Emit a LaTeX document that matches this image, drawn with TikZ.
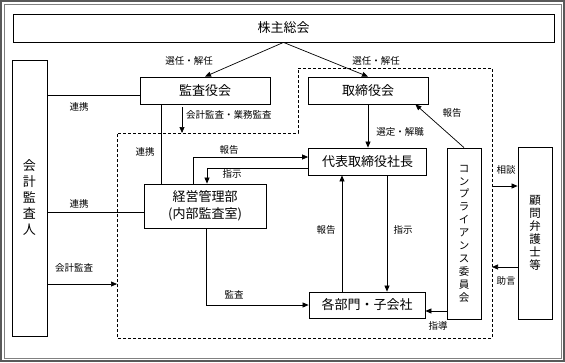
\documentclass[tikz,border=0pt]{standalone}
\usepackage{fontspec}
\setmainfont{Noto Sans CJK JP}
\usetikzlibrary{
    arrows.meta,
    calc
}

\tikzset{
    box/.style={draw, line width=0.8pt, inner sep=0pt, align=center, font=\fontsize{13}{17}\selectfont},
    vbox/.style={box, font=\fontsize{10.5}{12.9}\selectfont},
    lbl/.style={inner sep=1pt, font=\fontsize{9.5}{11}\selectfont},
    arr/.style={-{Triangle[length=6pt,width=5pt]}, line width=0.7pt},
    conn/.style={line width=0.7pt}
}

\begin{document}
\begin{tikzpicture}[x=1pt,y=-1pt]
\useasboundingbox (0,0) rectangle (565,362);

% Frame
\draw[gray!70!black, line width=1.4pt] (1,1) rectangle (564,361);
\draw[gray, line width=0.6pt] (4,4) rectangle (561,358);

% Dashed area
\coordinate (dA) at (298,68);
\coordinate (dB) at (492,68);
\coordinate (dC) at (492,338);
\coordinate (dD) at (117,338);
\coordinate (dE) at (117,133);
\coordinate (dF) at (298,133);
\draw[dash pattern=on 3pt off 2pt, line width=0.8pt] (dA) -- (dB) -- (dC) -- (dD) -- (dE) -- (dF) -- cycle;

% Boxes
\node[box, minimum width=541pt, minimum height=28pt] (soukai) at (283.5,28) {株主総会};
\node[box, minimum width=130pt, minimum height=27pt] (kansa) at (205,90.5) {監査役会};
\node[box, minimum width=120pt, minimum height=27pt] (torishimari) at (368,90.5) {取締役会};
\node[box, minimum width=35pt, minimum height=276pt, font=\fontsize{13}{16}\selectfont] (kaikei) at (29.5,198) {会\\計\\監\\査\\人};
\node[box, minimum width=122pt, minimum height=44pt] (keiei) at (205,206) {経営管理部\\(内部監査室)};
\node[box, minimum width=118pt, minimum height=27pt] (daihyo) at (367.5,161.5) {代表取締役社長};
\node[box, minimum width=116pt, minimum height=26pt] (kakubu) at (367,305) {各部門・子会社};
\node[vbox, minimum width=34pt, minimum height=171pt] (compl) at (464,233.5) {コ\\ン\\プ\\ラ\\イ\\ア\\ン\\ス\\委\\員\\会};
\node[vbox, minimum width=34pt, minimum height=172pt, font=\fontsize{11.5}{13}\selectfont] (komon) at (535,233) {顧\\問\\弁\\護\\士\\等};

% Shareholders
\draw[arr] (soukai.south) -- (kansa.north);
\draw[arr] (soukai.south) -- (torishimari.north);
\node[lbl] at (189,61) {選任・解任};
\node[lbl] at (376,61) {選任・解任};

% Auditors
\coordinate (r1) at ([yshift=-4.5pt]kansa.west);
\draw[conn] (r1) -- (r1 -| kaikei.east);
\node[lbl] at (79,107) {連携};
\draw[conn] ([xshift=-44pt]kansa.south) -- ([xshift=-44pt]kansa.south |- keiei.north);
\node[lbl] at (145,152) {連携};
\draw[arr] ([xshift=-23pt,yshift=-3pt]kansa.south) -- ([xshift=-23pt]kansa.south |- dF);
\node[lbl, anchor=west] at (185,115) {会計監査・業務監査};
\coordinate (r2) at ([yshift=-6pt]keiei.west);
\draw[conn] (r2) -- (r2 -| kaikei.east);
\node[lbl] at (79,204) {連携};
\coordinate (r3) at ([yshift=-86pt]kaikei.east);
\draw[arr] (r3) -- (r3 -| dE);
\node[lbl] at (74,268) {会計監査};

% Management
\draw[arr] ([xshift=-12pt]keiei.north) |- ([yshift=4.5pt]daihyo.west);
\node[lbl] at (229,150) {報告};
\draw[arr] ([yshift=-6.5pt]daihyo.west) -| ([xshift=2pt]keiei.north);
\node[lbl] at (232,174) {指示};
\draw[arr] (torishimari.south) -- (torishimari.south |- daihyo.north);
\node[lbl] at (400,132) {選定・解職};
\draw[arr] (compl.north) -- ([xshift=-13pt]torishimari.south east);
\node[lbl] at (452,113) {報告};

% Departments
\draw[arr] ([xshift=-25pt]kakubu.north) -- ([xshift=-25pt]kakubu.north |- daihyo.south);
\node[lbl] at (326,230) {報告};
\draw[arr] ([xshift=19.5pt]daihyo.south) -- ([xshift=19.5pt]daihyo.south |- kakubu.north);
\node[lbl] at (403,230) {指示};
\draw[arr] ([xshift=1pt]keiei.south) |- (kakubu.west);
\node[lbl] at (234,295) {監査};
\coordinate (r4) at ([yshift=-77.5pt]compl.west);
\draw[arr] (r4) -- (r4 -| kakubu.east);
\node[lbl] at (438,326) {指導};

% Lawyers
\coordinate (r5) at ([yshift=47pt]komon.west);
\draw[arr] (r5 -| dB) -- (r5);
\node[lbl] at (506,170) {相談};
\coordinate (r6) at ([yshift=-34pt]komon.west);
\draw[arr] (r6) -- (r6 -| dB);
\node[lbl] at (506,281) {助言};

\end{tikzpicture}
\end{document}
